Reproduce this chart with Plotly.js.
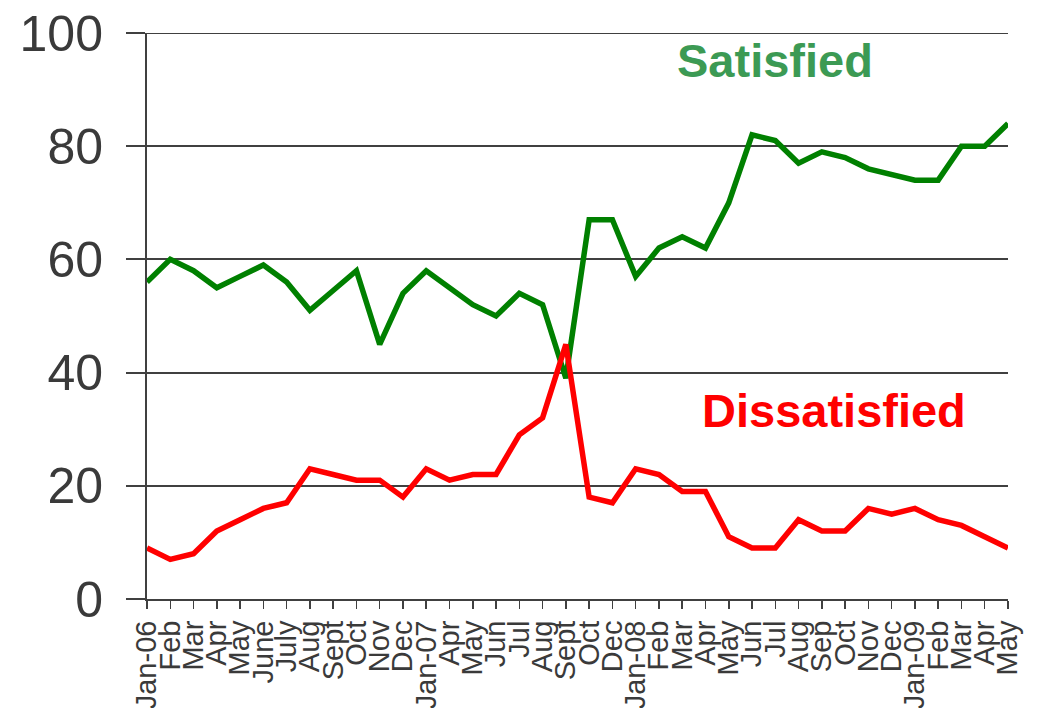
<!DOCTYPE html>
<html>
<head>
<meta charset="utf-8">
<script src="https://cdn.plot.ly/plotly-3.0.1.min.js"></script>
<style>
html,body{margin:0;padding:0;background:#fff;}
#chart{width:1037px;height:708px;}
</style>
</head>
<body>
<div id="chart"></div>
<script>
const months = ["Jan-06","Feb","Mar","Apr","May","June","July","Aug","Sept","Oct","Nov","Dec",
  "Jan-07","Apr","May","Jun","Jul","Aug","Sept","Oct","Dec",
  "Jan-08","Feb","Mar","Apr","May","Jun","Jul","Aug","Sep","Oct","Nov","Dec",
  "Jan-09","Feb","Mar","Apr","May"];
const satisfied = [56,60,58,55,57,59,56,51,54.5,58,45,54,
  58,55,52,50,54,52,39,67,67,
  57,62,64,62,70,82,81,77,79,78,76,75,
  74,74,80,80,84];
const dissatisfied = [9,7,8,12,14,16,17,23,22,21,21,18,
  23,21,22,22,29,32,45,18,17,
  23,22,19,19,11,9,9,14,12,12,16,15,
  16,14,13,11,9];
const yTicks = [0,20,40,60,80,100];

const xIdx = months.map((m,i)=>i);

const traces = [
  {x:xIdx, y:satisfied, type:'scatter', mode:'lines', name:'Satisfied',
   line:{color:'#008000', width:5.5}, hoverinfo:'skip'},
  {x:xIdx, y:dissatisfied, type:'scatter', mode:'lines', name:'Dissatisfied',
   line:{color:'#ff0000', width:5.5}, hoverinfo:'skip'}
];

const layout = {
  width:1037, height:708,
  margin:{l:147, r:29, t:33, b:109},
  paper_bgcolor:'#fff', plot_bgcolor:'#fff',
  showlegend:false,
  font:{family:'Liberation Sans, Arial, sans-serif', color:'#3a3a3a'},
  xaxis:{
    range:[0, months.length-1],
    tickmode:'array', tickvals:xIdx, ticktext:months,
    tickangle:-90, tickfont:{size:29, color:'#3a3a3a'},
    ticks:'outside', ticklen:8, tickwidth:1.5, tickcolor:'#404040',
    showline:true, linecolor:'#404040', linewidth:2,
    showgrid:false, zeroline:false, fixedrange:true
  },
  yaxis:{
    range:[0,100],
    tickmode:'array', tickvals:yTicks,
    tickfont:{size:50, color:'#3a3a3a'},
    ticks:'outside', ticklen:19, tickwidth:1.8, tickcolor:'#404040',
    ticklabelstandoff:13,
    showline:true, linecolor:'#404040', linewidth:2,
    showgrid:true, gridcolor:'#404040', gridwidth:1.8,
    zeroline:false, fixedrange:true
  },
  shapes:[
    {type:'line', xref:'paper', yref:'y', x0:0, x1:1, y0:yTicks[yTicks.length-1], y1:yTicks[yTicks.length-1],
     line:{color:'#404040', width:1.8}, layer:'below'}
  ],
  annotations:[
    {text:'<b>Satisfied</b>', xref:'paper', yref:'paper', x:(775-147)/861, y:(599-60)/566,
     showarrow:false, xanchor:'center', yanchor:'middle',
     font:{size:47, color:'#3c9a54', family:'Liberation Sans, Arial, sans-serif'}},
    {text:'<b>Dissatisfied</b>', xref:'paper', yref:'paper', x:(834-147)/861, y:(599-410)/566,
     showarrow:false, xanchor:'center', yanchor:'middle',
     font:{size:47, color:'#ff0000', family:'Liberation Sans, Arial, sans-serif'}}
  ]
};

Plotly.newPlot('chart', traces, layout, {staticPlot:true, displayModeBar:false});
</script>
</body>
</html>
